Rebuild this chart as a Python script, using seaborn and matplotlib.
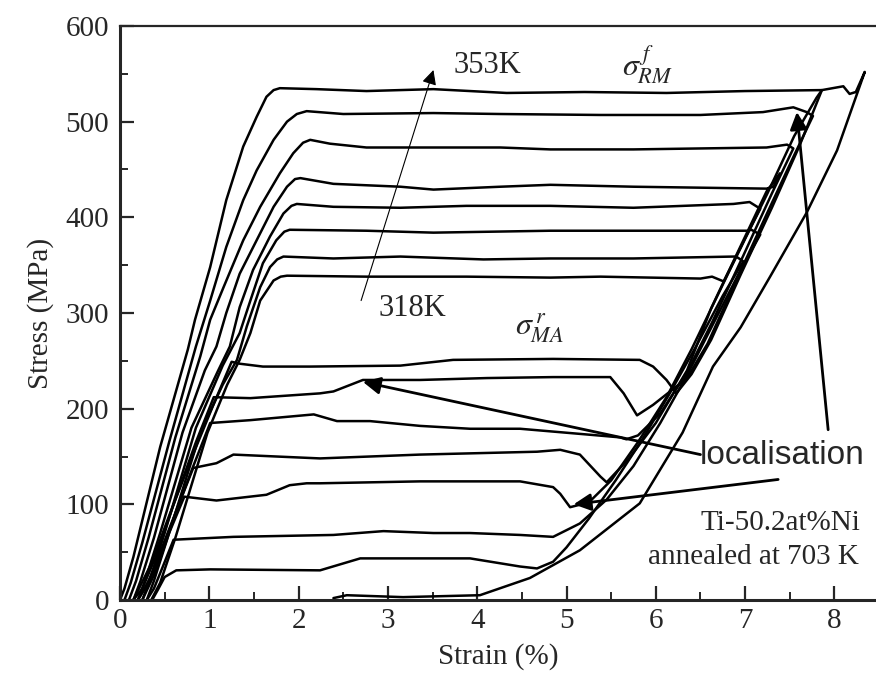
import numpy as np
import pandas as pd
import matplotlib
matplotlib.use("Agg")
import matplotlib.pyplot as plt
import seaborn as sns

# ---------------- data (strain %, stress MPa), one loop per test temperature ----------------
temps = ["353K", "348K", "343K", "338K", "333K", "328K", "323K", "318K"]

eps_353 = [0.00, 0.05, 0.15, 0.45, 0.76, 0.84, 1.01, 1.19, 1.38, 1.53, 1.64, 1.72, 1.79,
           2.20, 2.76, 3.51, 4.33, 5.20, 6.12, 7.00, 7.86,
           7.61, 7.30, 6.95, 6.62, 6.40, 6.23,
           6.12, 5.97, 5.82, 4.85, 3.73, 3.14, 2.13, 1.60, 1.34, 1.25,
           1.05, 0.80, 0.55, 0.35, 0.15]
sig_353 = [0, 12, 45, 160, 262, 293, 348, 418, 474, 505, 526, 533, 535,
           534, 532, 534, 530, 531, 530, 532, 533,
           475, 410, 340, 272, 236, 216,
           230, 244, 251, 252, 251, 245, 244, 244, 247, 249,
           205, 148, 88, 38, 0]

eps_348 = [0.05, 0.12, 0.25, 0.55, 0.85, 1.01, 1.19, 1.38, 1.53, 1.72, 1.87, 1.98, 2.09,
           2.50, 3.51, 4.26, 5.38, 6.50, 7.20, 7.54, 7.69, 7.76,
           7.55, 7.25, 6.92, 6.58, 6.35, 6.16,
           5.97, 5.79, 5.64, 5.49, 4.85, 4.11, 3.36, 2.72, 2.61, 2.39, 2.24, 1.46, 1.05,
           0.85, 0.62, 0.40, 0.25, 0.15]
sig_348 = [0, 18, 60, 165, 265, 313, 369, 418, 449, 481, 500, 508, 511,
           508, 509, 508, 507, 507, 510, 515, 510, 506,
           465, 405, 338, 268, 232, 218,
           204, 193, 216, 233, 233, 232, 230, 230, 226, 218, 216, 211, 212,
           165, 105, 45, 12, 0]

eps_343 = [0.10, 0.18, 0.32, 0.62, 0.90, 1.01, 1.16, 1.38, 1.57, 1.79, 1.94, 2.05, 2.13,
           2.35, 2.76, 3.51, 4.26, 4.82, 5.75, 7.24, 7.47, 7.54,
           7.30, 6.98, 6.64, 6.35, 6.05, 5.80, 5.67,
           5.60, 5.23, 4.48, 3.92, 3.36, 2.80, 2.43, 2.17, 1.46, 1.01,
           0.80, 0.58, 0.38, 0.20]
sig_343 = [0, 20, 65, 170, 255, 293, 327, 376, 411, 446, 467, 478, 481,
           477, 473, 473, 473, 471, 471, 473, 476, 472,
           425, 360, 292, 238, 195, 172, 168,
           170, 173, 179, 179, 182, 187, 187, 194, 188, 185,
           135, 80, 30, 0]

eps_338 = [0.15, 0.23, 0.38, 0.70, 0.95, 1.08, 1.19, 1.34, 1.53, 1.72, 1.87, 1.96, 2.02,
           2.39, 3.14, 3.51, 4.26, 4.82, 5.75, 7.24, 7.32, 7.39,
           7.24, 6.95, 6.62, 6.35, 6.00, 5.70, 5.45,
           5.38, 5.15, 4.93, 4.67, 3.36, 2.24, 1.75, 1.27, 1.08, 0.82,
           0.65, 0.45, 0.30, 0.20]
sig_338 = [0, 20, 65, 175, 240, 265, 300, 341, 376, 411, 432, 440, 441,
           435, 432, 429, 432, 434, 432, 430, 432, 446,
           427, 370, 305, 240, 185, 148, 123,
           129, 152, 157, 155, 152, 148, 150, 152, 143, 138,
           98, 50, 15, 0]

eps_333 = [0.20, 0.28, 0.45, 0.80, 1.10, 1.23, 1.34, 1.49, 1.68, 1.83, 1.92, 1.98,
           2.39, 3.14, 3.88, 4.82, 5.75, 6.87, 7.05, 7.17,
           7.00, 6.70, 6.40, 6.12, 5.80, 5.50, 5.25, 5.04,
           4.93, 4.85, 4.48, 3.36, 2.24, 2.09, 1.90, 1.64, 1.08, 0.72,
           0.55, 0.40, 0.25]
sig_333 = [0, 20, 70, 180, 240, 265, 306, 345, 380, 404, 412, 414,
           411, 410, 412, 412, 410, 414, 416, 409,
           378, 320, 262, 212, 165, 125, 102, 97,
           111, 118, 124, 124, 122, 122, 120, 110, 104, 108,
           70, 30, 0]

eps_328 = [0.25, 0.33, 0.50, 0.85, 1.15, 1.34, 1.46, 1.60, 1.75, 1.84, 1.90,
           2.76, 3.51, 4.82, 5.75, 7.02, 7.07, 7.17,
           6.95, 6.65, 6.35, 6.05, 5.75, 5.45, 5.15,
           4.85, 4.48, 3.92, 3.51, 2.95, 2.39, 1.27, 0.60,
           0.48, 0.38, 0.30]
sig_328 = [0, 20, 70, 180, 245, 279, 313, 352, 376, 385, 387,
           386, 384, 386, 386, 386, 387, 382,
           345, 290, 235, 185, 140, 105, 80,
           66, 68, 70, 70, 72, 68, 66, 63,
           35, 12, 0]

eps_323 = [0.30, 0.38, 0.55, 0.90, 1.15, 1.31, 1.42, 1.57, 1.68, 1.76, 1.83,
           2.39, 3.14, 4.07, 4.82, 5.75, 6.87, 6.90, 6.98,
           6.75, 6.45, 6.15, 5.85, 5.55, 5.25, 5.00, 4.85,
           4.67, 4.48, 3.92, 2.69, 2.24, 1.01, 0.63, 0.50,
           0.42, 0.36]
sig_323 = [0, 20, 70, 175, 225, 251, 286, 327, 348, 356, 359,
           357, 359, 356, 357, 357, 359, 359, 354,
           318, 265, 215, 168, 125, 85, 55, 40,
           33, 35, 43.5, 43.5, 31, 32, 31, 24,
           10, 0]

eps_318 = [0.35, 0.45, 0.62, 0.98, 1.20, 1.34, 1.46, 1.57, 1.72, 1.80, 1.87,
           2.76, 3.88, 4.82, 5.38, 6.50, 6.63, 6.76,
           6.95, 7.25, 7.55, 7.80, 7.86, 8.10, 8.17, 8.24, 8.34,
           8.03, 7.69, 7.28, 6.95, 6.64, 6.30, 5.82, 5.15, 4.59, 4.03, 3.17, 2.54, 2.39]
sig_318 = [0, 18, 65, 175, 225, 251, 279, 313, 334, 338, 339,
           338, 338, 337, 338, 336, 338, 333,
           368, 425, 485, 525, 533, 537, 529, 531, 552,
           470, 405, 338, 285, 244, 175, 101, 52, 23, 5, 3, 5, 2]

loops_eps = [eps_353, eps_348, eps_343, eps_338, eps_333, eps_328, eps_323, eps_318]
loops_sig = [sig_353, sig_348, sig_343, sig_338, sig_333, sig_328, sig_323, sig_318]

frames = []
for t, e, s in zip(temps, loops_eps, loops_sig):
    frames.append(pd.DataFrame({"strain": e, "stress": s, "loop": t,
                                "order": np.arange(len(e))}))
df = pd.concat(frames, ignore_index=True)

# ---------------- style ----------------
sns.set_style("ticks")
plt.rcParams["font.family"] = ["Liberation Serif", "DejaVu Serif"]
plt.rcParams["mathtext.fontset"] = "stix"
plt.rcParams["lines.solid_joinstyle"] = "round"
plt.rcParams["lines.solid_capstyle"] = "round"

fig = plt.figure(figsize=(8.76, 6.82), dpi=100)
ax = fig.add_axes([120 / 876, 82 / 682, 756 / 876, 574 / 682])

sns.lineplot(data=df, x="strain", y="stress", units="loop", estimator=None,
             sort=False, color="black", lw=1.8, legend=False, ax=ax)

ax.set_xlim(0, 756 / 89.3)
ax.set_ylim(0, 600)
ax.set_xticks(np.arange(0, 9, 1))
ax.set_xticks(np.arange(0.5, 8.5, 1), minor=True)
ax.set_yticks(np.arange(0, 700, 100))
ax.set_yticks(np.arange(50, 600, 100), minor=True)
ax.tick_params(which="major", direction="in", length=10, width=1.6,
               labelsize=21, top=False, right=False, pad=8)
ax.tick_params(which="minor", direction="in", length=5.5, width=1.4,
               top=False, right=False)
ax.tick_params(axis="x", pad=6)

for side in ["left", "bottom"]:
    ax.spines[side].set_linewidth(2.2)
ax.spines["top"].set_linewidth(1.6)
ax.spines["right"].set_visible(False)

ax.set_xlabel("Strain (%)", fontsize=21, labelpad=6)
ax.set_ylabel("Stress (MPa)", fontsize=21, labelpad=8)

# ---------------- annotations ----------------
ax.annotate("", xy=(3.51, 554), xytext=(2.70, 313),
            arrowprops=dict(arrowstyle="-|>", lw=0.8, color="black",
                            mutation_scale=22, shrinkA=0, shrinkB=0))
ax.text(4.11, 559, "353K", fontsize=22, ha="center", va="center")
ax.text(3.27, 305, "318K", fontsize=22, ha="center", va="center")
ax.text(5.91, 560, r"$\sigma^{\,f}_{RM}$", fontsize=23, ha="center", va="center")
ax.text(4.70, 284, r"$\sigma^{\,r}_{MA}$", fontsize=23, ha="center", va="center")

arrow_kw = dict(arrowstyle="-|>", lw=2.0, color="black", mutation_scale=26,
                shrinkA=0, shrinkB=0)
ax.annotate("", xy=(2.72, 228), xytext=(6.50, 152), arrowprops=arrow_kw)
ax.annotate("", xy=(5.08, 100), xytext=(7.37, 126), arrowprops=arrow_kw)
ax.annotate("", xy=(7.58, 510), xytext=(7.93, 178), arrowprops=arrow_kw)

ax.text(7.41, 151, "localisation", fontsize=24, ha="center", va="center",
        family=["Liberation Sans", "DejaVu Sans"])
ax.text(8.29, 81, "Ti-50.2at%Ni", fontsize=21, ha="right", va="center")
ax.text(8.27, 45, "annealed at 703 K", fontsize=21, ha="right", va="center")

fig.savefig("out.png", dpi=100)
